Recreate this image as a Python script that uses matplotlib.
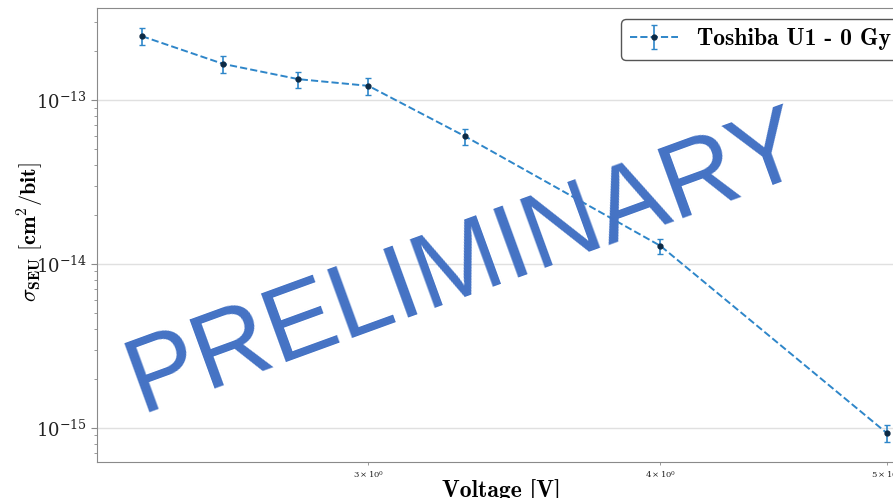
import matplotlib
matplotlib.use("Agg")
import matplotlib.pyplot as plt
import numpy as np

plt.rcParams['mathtext.fontset'] = 'cm'
plt.rcParams['font.family'] = 'serif'
plt.rcParams['font.serif'] = ['DejaVu Serif']

# data
voltage = [2.4, 2.6, 2.8, 3.0, 3.3, 4.0, 5.0]
sigma = [2.45e-13, 1.66e-13, 1.34e-13, 1.22e-13, 6.0e-14, 1.29e-14, 9.3e-16]
sigma_err = [0.28e-13, 0.19e-13, 0.15e-13, 0.14e-13, 0.65e-14, 0.14e-14, 1.1e-16]
label = 'Toshiba U1 - 0 Gy'

fig = plt.figure(figsize=(8.93, 4.98), dpi=100)
ax = fig.add_axes([97/893, 36/498, 808/893, 454/498])

ax.errorbar(voltage, sigma, yerr=sigma_err, fmt='o--', color='#2e86c9',
            ecolor='#2e86c9', mfc='#0d2a45', mec='#0d2a45', ms=3.5,
            capsize=2.5, elinewidth=1.2, lw=1.4, label=label)

ax.set_xscale('log')
ax.set_yscale('log')
ax.set_xlim(2.296, 5.09)
ax.set_ylim(6.2e-16, 3.64e-13)

ax.grid(True, which='major', color='#e0e0e0', lw=1.0)
for s in ax.spines.values():
    s.set_color('#8a8a8a')
ax.tick_params(which='both', colors='#8a8a8a', labelcolor='#222222')
ax.tick_params(axis='y', which='major', labelsize=13, length=4)
ax.tick_params(axis='y', which='minor', length=2.5)
ax.tick_params(axis='x', which='minor', labelsize=6, length=2.5)

ax.set_xlabel('Voltage [V]', family='cmb10', fontsize=17, labelpad=-1)
ax.set_ylabel(r'$\sigma_{\mathbf{SEU}}\ \mathbf{[cm^2/bit]}$', fontsize=16)
ax.yaxis.set_label_coords(-0.063, 0.507)

ax.legend(loc='upper right', bbox_to_anchor=(1.0, 1 - 6/454),
          borderaxespad=0.21, prop={'family': 'cmb10', 'size': 17},
          frameon=True, edgecolor='#555555', fancybox=True, framealpha=1.0)

fig.text(475/893, 1 - 290/498, 'PRELIMINARY', color='#4472C4',
         family='Liberation Sans', fontsize=76, rotation=20,
         rotation_mode='anchor', ha='center', va='baseline')

plt.savefig('out.png', dpi=100)
